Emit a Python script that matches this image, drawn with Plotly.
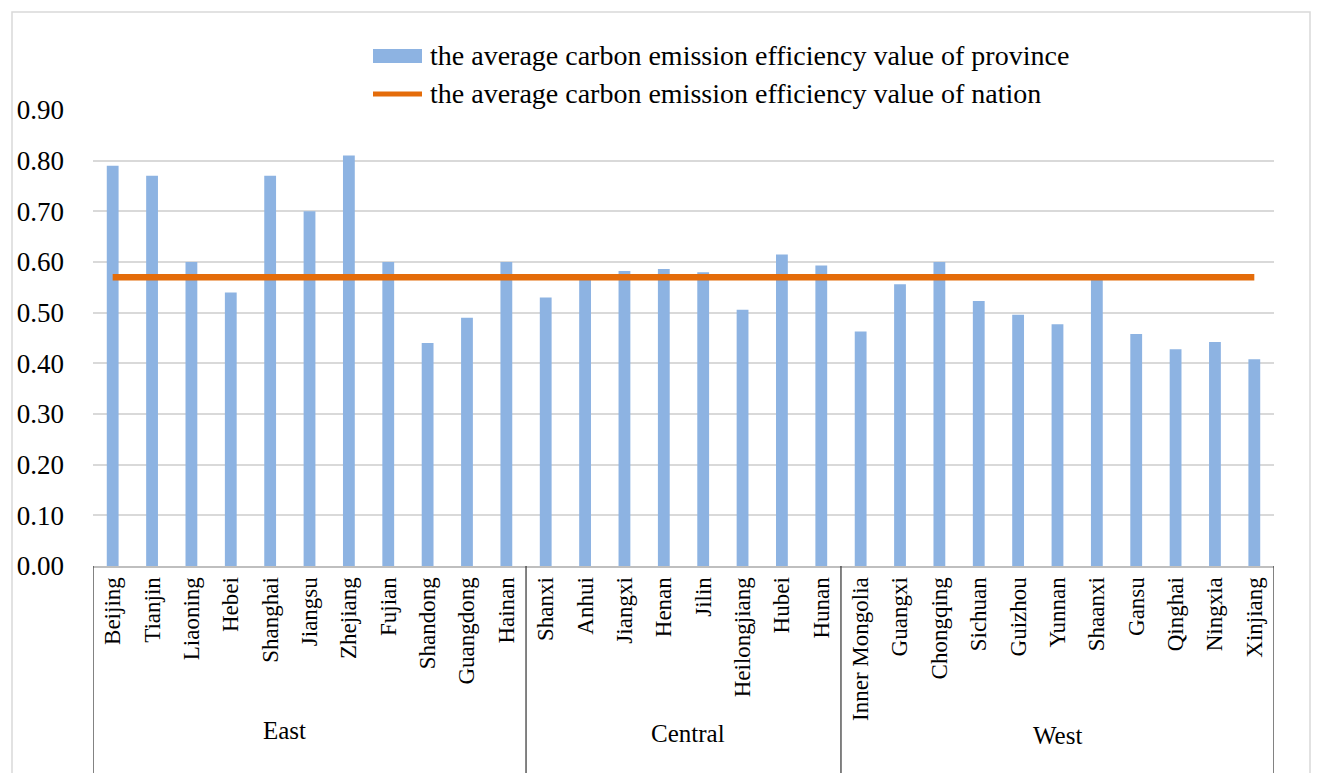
import plotly.graph_objects as go

# Provinces grouped by region, in display order
provinces = [
    "Beijing", "Tianjin", "Liaoning", "Hebei", "Shanghai", "Jiangsu", "Zhejiang",
    "Fujian", "Shandong", "Guangdong", "Hainan",
    "Shanxi", "Anhui", "Jiangxi", "Henan", "Jilin", "Heilongjiang", "Hubei", "Hunan",
    "Inner Mongolia", "Guangxi", "Chongqing", "Sichuan", "Guizhou", "Yunnan",
    "Shaanxi", "Gansu", "Qinghai", "Ningxia", "Xinjiang",
]
province_eff = [
    0.79, 0.77, 0.60, 0.54, 0.77, 0.70, 0.81, 0.60, 0.44, 0.49, 0.60,
    0.53, 0.567, 0.582, 0.586, 0.58, 0.506, 0.615, 0.593,
    0.463, 0.556, 0.60, 0.523, 0.496, 0.477, 0.567, 0.458, 0.428, 0.442, 0.408,
]
regions = ["East", "Central", "West"]
region_sizes = [11, 8, 11]
national_eff = 0.57

W, H = 1322, 773
ML, MR, MT, MB = 93, 48, 110, 207
PW, PH = W - ML - MR, H - MT - MB
SERIF = "Liberation Serif"
BAR_COLOR = "#8db3e2"
LINE_COLOR = "#e46c0a"


def px_x(x):
    return (x - ML) / PW


def px_y(y):
    return (H - MB - y) / PH


fig = go.Figure()
fig.add_trace(go.Bar(
    x=provinces, y=province_eff, width=0.3,
    marker=dict(color=BAR_COLOR, line=dict(width=0)),
    name="the average carbon emission efficiency value of province",
    showlegend=False,
))
fig.add_trace(go.Scatter(
    x=provinces, y=[national_eff] * len(provinces), mode="lines",
    line=dict(color=LINE_COLOR, width=6.5),
    name="the average carbon emission efficiency value of nation",
    showlegend=False,
))

shapes = []
annotations = []

# outer chart border
shapes.append(dict(type="rect", xref="paper", yref="paper",
                   x0=px_x(12), x1=px_x(1310), y0=px_y(800), y1=px_y(12),
                   line=dict(color="#d9d9d9", width=1.5), layer="below"))

# region separators below the category axis
bounds = [-0.5]
for n in region_sizes:
    bounds.append(bounds[-1] + n)
for b in bounds:
    shapes.append(dict(type="line", xref="x", yref="paper",
                       x0=b, x1=b, y0=0, y1=px_y(790),
                       line=dict(color="#404040", width=1.3)))

# region labels
region_label_px = [(284, 730), (688, 733), (1057, 735)]
for name, (lx, ly) in zip(regions, region_label_px):
    annotations.append(dict(text=name, xref="paper", yref="paper",
                            x=px_x(lx), y=px_y(ly), showarrow=False,
                            xanchor="center", yanchor="middle",
                            font=dict(family=SERIF, size=25, color="#000")))

# legend
shapes.append(dict(type="rect", xref="paper", yref="paper",
                   x0=px_x(373), x1=px_x(422), y0=px_y(63), y1=px_y(49),
                   fillcolor=BAR_COLOR, line=dict(width=0)))
shapes.append(dict(type="line", xref="paper", yref="paper",
                   x0=px_x(373), x1=px_x(422), y0=px_y(94), y1=px_y(94),
                   line=dict(color=LINE_COLOR, width=5)))
for trace, ly in zip(fig.data, (56, 94)):
    annotations.append(dict(text=trace.name, xref="paper", yref="paper",
                            x=px_x(428), y=px_y(ly), showarrow=False,
                            xanchor="left", yanchor="middle",
                            font=dict(family=SERIF, size=28, color="#000")))

fig.update_layout(
    width=W, height=H,
    margin=dict(l=ML, r=MR, t=MT, b=MB, pad=0),
    paper_bgcolor="white", plot_bgcolor="white",
    shapes=shapes, annotations=annotations,
    font=dict(family=SERIF, color="#000"),
    xaxis=dict(
        type="category", range=[-0.5, len(provinces) - 0.5],
        tickangle=-90, tickfont=dict(family=SERIF, size=23, color="#000"),
        showgrid=False, showline=True, linecolor="#bfbfbf", linewidth=2,
        ticks="", fixedrange=True,
    ),
    yaxis=dict(
        range=[0, 0.9], dtick=0.1, tickformat=".2f",
        tickfont=dict(family=SERIF, size=27, color="#000"),
        showgrid=True, gridcolor="#d9d9d9", gridwidth=2,
        zeroline=False, showline=False, ticks="", ticklabelstandoff=28,
        fixedrange=True,
    ),
)

fig.write_html("out.html")
